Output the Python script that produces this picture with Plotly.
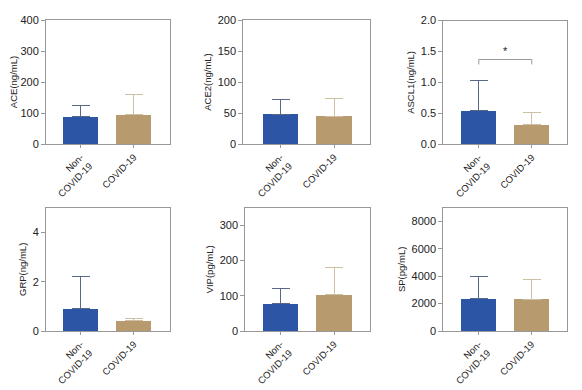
import plotly.graph_objects as go

W, H = 582, 390
OFF = 8  # page body margin offset
FW, FH = W - OFF, H - OFF

categories = ["Non-<br>COVID-19", "COVID-19"]
titles = ["ACE(ng/mL)", "ACE2(ng/mL)", "ASCL1(ng/mL)", "GRP(ng/mL)", "VIP(pg/mL)", "SP(pg/mL)"]

ace_mean = [88, 94]
ace_err = [125, 161]
ace2_mean = [48, 44.5]
ace2_err = [72.5, 74]
ascl1_mean = [0.54, 0.32]
ascl1_err = [1.03, 0.51]
grp_mean = [0.9, 0.41]
grp_err = [2.2, 0.51]
vip_mean = [78, 104]
vip_err = [121, 181]
sp_mean = [2370, 2330]
sp_err = [4010, 3750]

y_ranges = [[0, 400], [0, 200], [0, 2.0], [0, 5], [0, 350], [0, 9000]]
y_ticks = [[0, 100, 200, 300, 400], [0, 50, 100, 150, 200], [0, 0.5, 1.0, 1.5, 2.0],
           [0, 2, 4], [0, 100, 200, 300], [0, 2000, 4000, 6000, 8000]]
y_ticktext = [None, None, ["0.0", "0.5", "1.0", "1.5", "2.0"], None, None, None]

means = [ace_mean, ace2_mean, ascl1_mean, grp_mean, vip_mean, sp_mean]
errs = [ace_err, ace2_err, ascl1_err, grp_err, vip_err, sp_err]

bar_colors = ["#2d55a6", "#b79b6e"]
err_colors = ["#5a6888", "#cdbfa4"]

# pixel boxes in page coords (left, right, top, bottom)
boxes = [(46, 170, 20, 144), (243.3, 370, 20, 144), (443.3, 567.3, 20.5, 144.3),
         (46, 170, 207.7, 331), (245.3, 370, 207.7, 331), (443.3, 566.7, 207.7, 331)]
x_ranges = [[-0.66, 1.68], [-0.70, 1.67], [-0.67, 1.67],
            [-0.66, 1.68], [-0.66, 1.67], [-0.67, 1.66]]

fig = go.Figure()
FONT = "Arial, Liberation Sans, sans-serif"

for i in range(6):
    ax = "" if i == 0 else str(i + 1)
    for g in range(2):
        fig.add_trace(go.Bar(
            x=[g], y=[means[i][g]], width=0.66,
            marker=dict(color=bar_colors[g], line=dict(width=0)),
            error_y=dict(type="data", symmetric=False,
                         array=[errs[i][g] - means[i][g]], arrayminus=[0],
                         color=err_colors[g], thickness=1, width=9),
            xaxis="x" + ax, yaxis="y" + ax, showlegend=False,
        ))
    l, r, t, b = boxes[i]
    xd = [(l - OFF) / FW, (r - OFF) / FW]
    yd = [1 - (b - OFF) / FH, 1 - (t - OFF) / FH]
    xa = dict(domain=xd, range=x_ranges[i], tickvals=[0, 1], ticktext=categories,
              tickangle=-45, ticks="outside", ticklen=3, tickcolor="#999999",
              showline=True, linecolor="#999999", linewidth=1, mirror=True,
              showgrid=False, zeroline=False, anchor="y" + ax, automargin=False,
              tickfont=dict(size=9.5, color="#222222", family=FONT))
    ya = dict(domain=yd, range=y_ranges[i], tickvals=y_ticks[i],
              ticks="outside", ticklen=4, tickcolor="#999999",
              showline=True, linecolor="#999999", linewidth=1, mirror=True,
              showgrid=False, zeroline=False, anchor="x" + ax, automargin=False,
              title=dict(text=titles[i], font=dict(size=9.5, color="#222222", family=FONT), standoff=4),
              tickfont=dict(size=11, color="#222222", family=FONT))
    if y_ticktext[i] is not None:
        ya["ticktext"] = y_ticktext[i]
    fig.update_layout(**{"xaxis" + ax: xa, "yaxis" + ax: ya})

# significance bracket on ASCL1 panel
br_y, br_low = 1.37, 1.29
for xs in ([0, 0], [1, 1]):
    fig.add_shape(type="line", xref="x3", yref="y3", x0=xs[0], x1=xs[1], y0=br_low, y1=br_y,
                  line=dict(color="#999999", width=1))
fig.add_shape(type="line", xref="x3", yref="y3", x0=0, x1=1, y0=br_y, y1=br_y,
              line=dict(color="#999999", width=1))
fig.add_annotation(xref="x3", yref="y3", x=0.5, y=br_y, text="*", showarrow=False,
                   yanchor="bottom", font=dict(size=11, color="#222222", family=FONT))

fig.update_layout(width=FW, height=FH, margin=dict(l=0, r=0, t=0, b=0, autoexpand=False),
                  plot_bgcolor="white", paper_bgcolor="white", bargap=0)

fig.write_html("out.html")
